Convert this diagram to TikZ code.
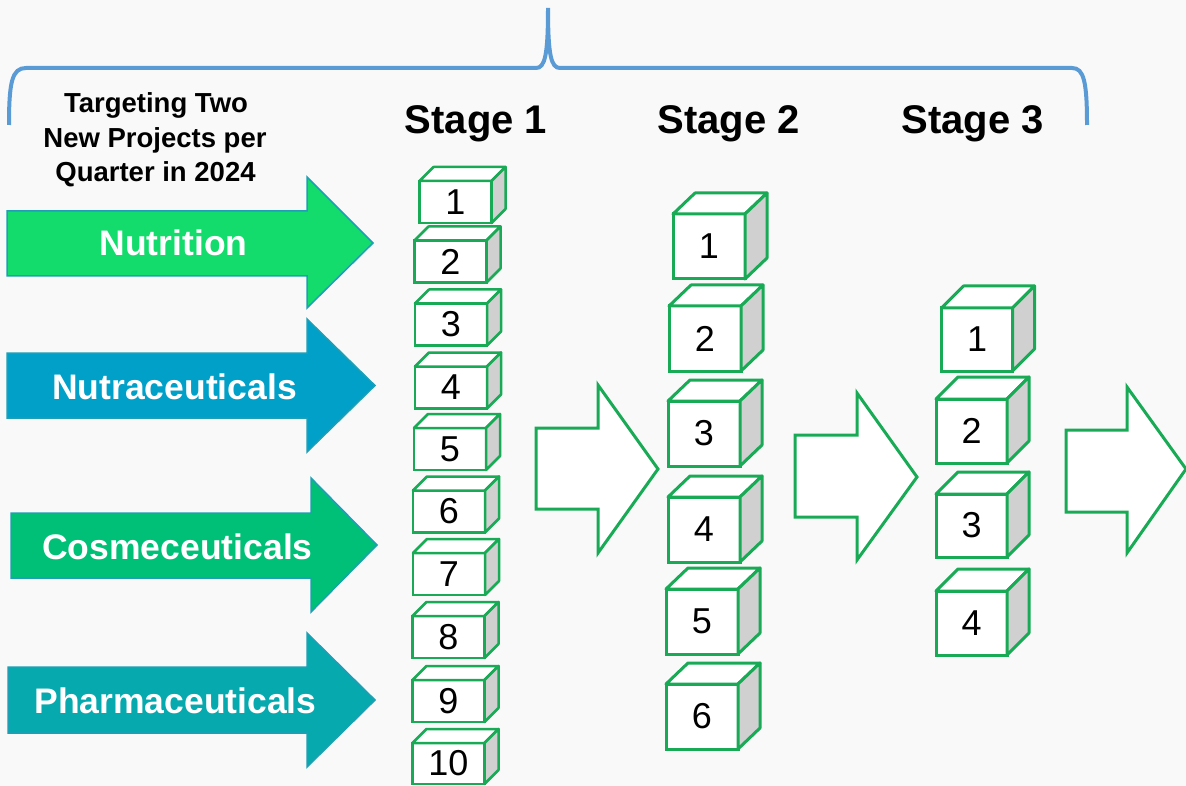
\documentclass[tikz,border=0pt]{standalone}
\usepackage{fontspec}
\setmainfont{Liberation Sans}
\definecolor{bgc}{HTML}{F9F9F9}
\definecolor{bracec}{HTML}{5B9BD5}
\definecolor{cubeg}{HTML}{19AA55}
\definecolor{cubeside}{HTML}{D0D0D0}
\definecolor{nutc}{HTML}{14DC6C}
\definecolor{nutrac}{HTML}{00A0C8}
\definecolor{cosc}{HTML}{00C077}
\definecolor{pharc}{HTML}{06A9AD}
\definecolor{arredge}{HTML}{1E9FB5}
\newcommand\mkcube[9]{%
  \node[cubefront, line width=#9, minimum width=#4pt, minimum height=#5pt] (#1) at (#2,#3) {#8};
  \draw[cubeg, line width=#9, line join=round, fill=white] (#1.north west) -- ++(#6,#7) -- ++(#4,0) -- (#1.north east) -- cycle;
  \draw[cubeg, line width=#9, line join=round, fill=cubeside] (#1.north east) -- ++(#6,#7) -- ++(0,#5) -- (#1.south east) -- cycle;
}
\begin{document}
\begin{tikzpicture}[x=1pt,y=-1pt,
  cubefront/.style={draw=cubeg, fill=white, inner sep=0pt, outer sep=0pt, font=\fontsize{36}{40}\selectfont},
  catarrow/.style={draw=arredge, line width=1.5pt},
  outarrow/.style={draw=cubeg, line width=3pt, fill=white},
  catlabel/.style={anchor=base, text=white, font=\bfseries\fontsize{35.5}{40}\selectfont},
  stagelabel/.style={anchor=base, font=\bfseries\fontsize{40}{46}\selectfont},
  toplabel/.style={anchor=base, font=\bfseries\fontsize{27.5}{33}\selectfont},
  bracestyle/.style={draw=bracec, line width=4pt, line cap=butt}]
\fill[bgc] (0,0) rectangle (1186,786);
\useasboundingbox (0,0) rectangle (1186,786);

% brace
\draw[bracestyle] (9,125) .. controls (9,82) and (12,68) .. (26,68) -- (536,68)
  .. controls (545,68) and (548,55) .. (548,8)
  .. controls (548,55) and (551,68) .. (560,68) -- (1072,68)
  .. controls (1084,68) and (1087,82) .. (1087,125);

% top-left text
\node[toplabel] (t1) at (156,113) {Targeting Two};
\node[toplabel] (t2) at (155,147.5) {New Projects per};
\node[toplabel] (t3) at (155.5,182) {Quarter in 2024};

% stage labels
\node[stagelabel] (st1) at (476,134) {Stage 1};
\node[stagelabel] (st2) at (728.5,134) {Stage 2};
\node[stagelabel] (st3) at (972.5,134) {Stage 3};

% category arrows
\fill[nutc, catarrow] (7,211) -- (307,211) -- (307,177) -- (373,243) -- (307,308) -- (307,276) -- (7,276) -- cycle;
\node[catlabel] (nut) at (173.5,256) {Nutrition};
\fill[nutrac, catarrow] (7,353) -- (307,353) -- (307,319) -- (375,385.5) -- (307,452) -- (307,418) -- (7,418) -- cycle;
\node[catlabel] (nutra) at (174.5,399) {Nutraceuticals};
\fill[cosc, catarrow] (11,513) -- (311,513) -- (311,478) -- (377,545) -- (311,612) -- (311,578) -- (11,578) -- cycle;
\node[catlabel] (cos) at (177.5,559) {Cosmeceuticals};
\fill[pharc, catarrow] (8,667) -- (307,667) -- (307,633) -- (375,700) -- (307,767) -- (307,733) -- (8,733) -- cycle;
\node[catlabel] (phar) at (175.5,713) {Pharmaceuticals};

% stage arrows
\draw[outarrow] (536,428) -- (598,428) -- (598,385) -- (658,469) -- (598,553) -- (598,509) -- (536,509) -- cycle;
\draw[outarrow] (795,435) -- (857,435) -- (857,393) -- (917,477) -- (857,560) -- (857,517) -- (795,517) -- cycle;
\draw[outarrow] (1066,430) -- (1127,430) -- (1127,387) -- (1186,469) -- (1127,553) -- (1127,512) -- (1066,512) -- cycle;

% stage 1 cubes
\mkcube{a1}{455.5}{202}{72}{42}{14}{-14}{1}{2.5pt}
\mkcube{a2}{450.5}{261.5}{72}{42}{14}{-14}{2}{2.5pt}
\mkcube{a3}{451}{324.5}{72}{42}{14}{-14}{3}{2.5pt}
\mkcube{a4}{451}{387.5}{72}{42}{14}{-14}{4}{2.5pt}
\mkcube{a5}{450}{449}{72}{42}{14}{-14}{5}{2.5pt}
\mkcube{a6}{449}{511.5}{72}{42}{14}{-14}{6}{2.5pt}
\mkcube{a7}{449}{574}{72}{42}{14}{-14}{7}{2.5pt}
\mkcube{a8}{448.5}{637}{72}{42}{14}{-14}{8}{2.5pt}
\mkcube{a9}{448.5}{701}{72}{42}{14}{-14}{9}{2.5pt}
\mkcube{a10}{448.5}{763.5}{72}{41}{14}{-14}{10}{2.5pt}

% stage 2 cubes
\mkcube{b1}{709}{246.5}{72}{65}{22}{-21}{1}{3pt}
\mkcube{b2}{705}{338.5}{72}{65}{22}{-21}{2}{3pt}
\mkcube{b3}{704}{433.5}{72}{65}{22}{-21}{3}{3pt}
\mkcube{b4}{704}{529.5}{72}{65}{22}{-21}{4}{3pt}
\mkcube{b5}{702}{621.5}{72}{65}{22}{-21}{5}{3pt}
\mkcube{b6}{702}{716.5}{72}{65}{22}{-21}{6}{3pt}

% stage 3 cubes
\mkcube{c1}{977}{339.5}{71}{63}{22}{-22}{1}{3pt}
\mkcube{c2}{971.5}{431}{71}{64}{22}{-22}{2}{3pt}
\mkcube{c3}{971.5}{525.5}{71}{63}{22}{-22}{3}{3pt}
\mkcube{c4}{971.5}{623}{71}{64}{22}{-22}{4}{3pt}
\end{tikzpicture}
\end{document}
